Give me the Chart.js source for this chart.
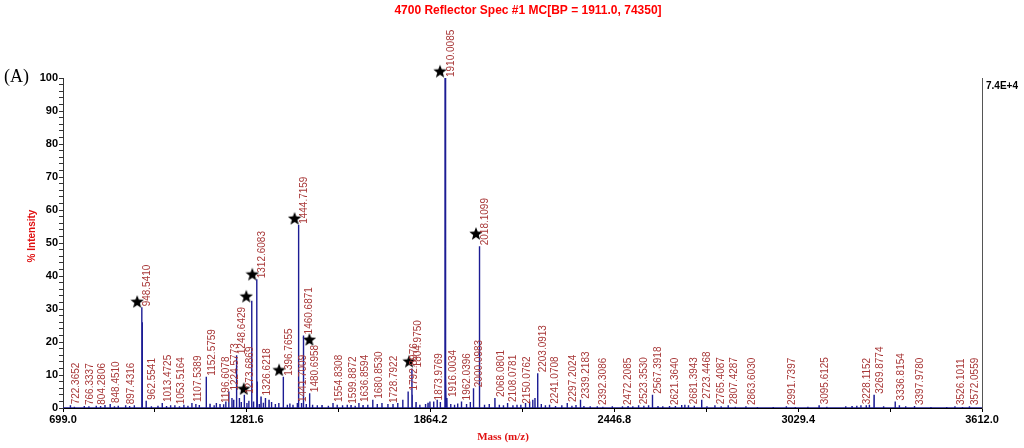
<!DOCTYPE html>
<html lang="en">
<head>
  <meta charset="UTF-8" />
  <title>4700 Reflector Spec #1 MC</title>
  <script src="https://cdn.jsdelivr.net/npm/chart.js"></script>
  <style>
    html, body { margin: 0; padding: 0; background: #fff; }
    #wrap { width: 1024px; height: 448px; }
  </style>
</head>
<body>
  <div id="wrap"><canvas id="spec" width="1024" height="448"></canvas></div>
  <script>
    // labelled / main peaks (m/z, % intensity, label text)
    const peakMass = [722.3652, 766.3337, 804.2806, 848.4510, 897.4316, 948.5410, 949.54, 950.55, 962.5541,
      1013.4725, 1053.5164, 1107.5389, 1152.5759, 1153.58, 1196.6078, 1224.5773, 1234.58, 1248.6429, 1249.64,
      1273.6869, 1296.66, 1297.66, 1312.6083, 1313.61, 1314.61, 1326.6218, 1340.6, 1396.7655, 1397.77,
      1441.7009, 1444.7159, 1445.72, 1446.72, 1460.6871, 1461.69, 1480.6958, 1554.8308, 1599.8872, 1636.8594,
      1680.8530, 1728.7922, 1792.8976, 1804.9750, 1805.98, 1873.9769, 1910.0085, 1911.01, 1912.01, 1913.01,
      1916.0034, 1962.0396, 2000.0983, 2018.1099, 2019.11, 2020.11, 2068.0801, 2108.0781, 2150.0762,
      2203.0913, 2204.09, 2241.0708, 2297.2024, 2339.2183, 2392.3086, 2472.2085, 2523.3530, 2567.3918,
      2621.3640, 2681.3943, 2723.4468, 2765.4087, 2807.4287, 2863.6030, 2991.7397, 3095.6125, 3228.1152,
      3269.8774, 3336.8154, 3397.9780, 3526.1011, 3572.0559];
    const peakInt = [0.8, 0.6, 0.7, 1.2, 0.8, 30.5, 26, 3, 2.2,
      1.5, 0.8, 1.5, 9.5, 3.5, 1.2, 5, 3, 16, 6,
      4, 32.5, 18, 39, 21, 8, 3.5, 3, 9.5, 3,
      1.5, 55.5, 37, 12, 22, 10, 4.5, 1.5, 1, 1.5,
      2.5, 1.2, 5, 12, 4, 2, 100, 51.5, 38, 10,
      3, 2, 6, 49, 40, 15, 3, 1.5, 1,
      10.5, 3.5, 1, 1.5, 2.5, 0.5, 0.5, 0.8, 4,
      0.6, 0.8, 2.5, 0.8, 0.8, 0.5, 0.5, 0.8, 0.8,
      4, 2, 0.6, 0.5, 0.5];
    const peakTag = ["722.3652", "766.3337", "804.2806", "848.4510", "897.4316", "948.5410", "", "", "962.5541",
      "1013.4725", "1053.5164", "1107.5389", "1152.5759", "", "1196.6078", "1224.5773", "", "1248.6429", "",
      "1273.6869", "", "", "1312.6083", "", "", "1326.6218", "", "1396.7655", "",
      "1441.7009", "1444.7159", "", "", "1460.6871", "", "1480.6958", "1554.8308", "1599.8872", "1636.8594",
      "1680.8530", "1728.7922", "1792.8976", "1804.9750", "", "1873.9769", "1910.0085", "", "", "",
      "1916.0034", "1962.0396", "2000.0983", "2018.1099", "", "", "2068.0801", "2108.0781", "2150.0762",
      "2203.0913", "", "2241.0708", "2297.2024", "2339.2183", "2392.3086", "2472.2085", "2523.3530", "2567.3918",
      "2621.3640", "2681.3943", "2723.4468", "2765.4087", "2807.4287", "2863.6030", "2991.7397", "3095.6125", "3228.1152",
      "3269.8774", "3336.8154", "3397.9780", "3526.1011", "3572.0559"];

    // small unlabelled baseline bumps
    const noiseMass = [735, 781, 818, 832, 862, 874, 910, 925, 979, 1000, 1027, 1040, 1068, 1082, 1095, 1120,
      1131, 1165, 1178, 1185, 1208, 1215, 1240, 1258, 1264, 1282, 1288, 1303, 1321, 1334, 1352, 1360, 1372,
      1383, 1410, 1418, 1428, 1455, 1470, 1490, 1505, 1520, 1540, 1568, 1585, 1612, 1625, 1650, 1665, 1695,
      1710, 1745, 1760, 1776, 1818, 1830, 1848, 1856, 1862, 1885, 1895, 1928, 1940, 1950, 1978, 1990, 2035,
      2050, 2082, 2095, 2125, 2138, 2165, 2178, 2188, 2195, 2215, 2228, 2260, 2280, 2312, 2325, 2350, 2370,
      2410, 2440, 2490, 2505, 2540, 2555, 2585, 2600, 2640, 2660, 2670, 2700, 2740, 2785, 2830, 2900, 2950,
      3020, 3060, 3120, 3180, 3200, 3215, 3245, 3255, 3300, 3350, 3370, 3450, 3500, 3550];
    const noiseInt = [0.4, 0.5, 0.6, 0.9, 0.5, 0.7, 0.6, 0.8, 0.5, 0.7, 0.6, 0.8, 0.5, 1.0, 0.7, 1.2,
      0.9, 1.3, 0.8, 1.5, 1.1, 2.0, 2.5, 3.0, 1.8, 1.5, 2.2, 2.0, 1.2, 1.6, 2.5, 1.8, 1.2,
      1.5, 1.0, 1.4, 1.0, 1.5, 1.2, 1.0, 0.8, 0.9, 0.7, 1.0, 0.8, 0.9, 0.7, 0.9, 1.0, 1.2,
      1.5, 1.2, 1.5, 2.5, 1.8, 1.0, 1.2, 1.6, 2.0, 2.5, 1.8, 1.2, 1.0, 1.4, 1.2, 1.8, 1.0,
      1.2, 1.0, 0.8, 0.8, 1.0, 1.5, 2.0, 2.5, 3.0, 1.2, 0.8, 0.6, 0.8, 0.7, 0.9, 0.6, 0.5,
      0.4, 0.5, 0.6, 0.5, 0.7, 0.8, 0.6, 0.5, 0.6, 0.9, 1.0, 0.7, 0.5, 0.5, 0.4, 0.3, 0.3,
      0.3, 0.4, 0.4, 0.5, 0.6, 0.7, 0.8, 1.0, 0.5, 0.8, 0.5, 0.3, 0.3, 0.3];

    // star markers
    const starMass = [934, 1272, 1280, 1299, 1384, 1433, 1480, 1796, 1894, 2008];
    const starInt = [32.4, 6, 34, 40.7, 11.7, 57.6, 20.9, 14.3, 102.2, 53];

    const xTickLabels = ["699.0", "1281.6", "1864.2", "2446.8", "3029.4", "3612.0"];
    const yTickValues = [0, 10, 20, 30, 40, 50, 60, 70, 80, 90, 100];

    const titleText = "4700 Reflector Spec #1 MC[BP = 1911.0, 74350]";

    // build stick profile: each peak is a narrow spike on the baseline
    const sticks = [];
    peakMass.forEach((m, i) => sticks.push([m, peakInt[i]]));
    noiseMass.forEach((m, i) => sticks.push([m, noiseInt[i]]));
    sticks.sort((a, b) => a[0] - b[0]);
    const profile = [{ x: 699, y: 0 }];
    sticks.forEach(([m, h]) => {
      profile.push({ x: m - 0.3, y: 0 }, { x: m, y: h }, { x: m + 0.3, y: 0 });
    });
    profile.push({ x: 3612, y: 0 });

    // filled five point star used as point style
    function makeStar(size) {
      const c = document.createElement("canvas");
      c.width = size; c.height = size;
      const g = c.getContext("2d");
      const cx = size / 2, cy = size / 2, ro = size / 2, ri = ro * 0.42;
      g.beginPath();
      for (let k = 0; k < 10; k++) {
        const r = k % 2 === 0 ? ro : ri;
        const a = -Math.PI / 2 + k * Math.PI / 5;
        g.lineTo(cx + r * Math.cos(a), cy + r * Math.sin(a) + 1);
      }
      g.closePath();
      g.fillStyle = "#000";
      g.fill();
      return c;
    }

    const majorX = xTickLabels.map(Number);
    const allXTicks = [];
    majorX.forEach((v, i) => {
      allXTicks.push(v);
      if (i < majorX.length - 1) allXTicks.push((v + majorX[i + 1]) / 2);
    });

    const decor = {
      id: "decor",
      afterDatasetsDraw(chart) {
        const { ctx, scales: { x, y } } = chart;
        ctx.save();
        // peak labels
        ctx.font = '10px "Liberation Sans", Arial, sans-serif';
        ctx.fillStyle = "#a83838";
        ctx.textAlign = "left";
        ctx.textBaseline = "top";
        peakMass.forEach((m, i) => {
          if (!peakTag[i]) return;
          const px = x.getPixelForValue(m) + 1;
          const py = Math.min(y.getPixelForValue(peakInt[i]) - 1, y.bottom - 3);
          ctx.save();
          ctx.translate(px, py);
          ctx.rotate(-Math.PI / 2);
          ctx.fillText(peakTag[i], 0, 0);
          ctx.restore();
        });
        ctx.restore();
      },
      afterDraw(chart) {
        const { ctx, chartArea } = chart;
        ctx.save();
        ctx.textAlign = "center";
        ctx.textBaseline = "middle";
        ctx.fillStyle = "#ff0000";
        ctx.font = 'bold 12px "Liberation Sans Narrow", "Liberation Sans", Arial, sans-serif';
        ctx.fillText(titleText, 528, 11);
        // axis titles
        ctx.fillStyle = "#e01010";
        ctx.font = 'bold 11px "Liberation Serif", "Times New Roman", serif';
        ctx.fillText("Mass (m/z)", 503, 437);
        ctx.save();
        ctx.translate(32, 236);
        ctx.rotate(-Math.PI / 2);
        ctx.font = 'bold 10px "Liberation Sans", Arial, sans-serif';
        ctx.fillText("% Intensity", 0, 0);
        ctx.restore();
        // panel letter
        ctx.fillStyle = "#000";
        ctx.textAlign = "left";
        ctx.font = '18px "Liberation Serif", "Times New Roman", serif';
        ctx.fillText("(A)", 4, 77);
        // right axis scale
        ctx.font = 'bold 10px "Liberation Sans", Arial, sans-serif';
        ctx.fillText("7.4E+4", chartArea.right + 4, 86);
        ctx.restore();
      }
    };

    new Chart(document.getElementById("spec"), {
      type: "line",
      data: {
        datasets: [
          {
            label: "Spectrum",
            data: profile,
            borderColor: "#1c1c94",
            borderWidth: 1.4,
            pointRadius: 0,
            tension: 0,
            fill: false
          },
          {
            type: "scatter",
            label: "Marked",
            data: starMass.map((m, i) => ({ x: m, y: starInt[i] })),
            pointStyle: makeStar(14),
            pointRadius: 7,
            clip: false
          }
        ]
      },
      options: {
        responsive: false,
        animation: false,
        devicePixelRatio: 1,
        layout: { padding: { top: 78, left: 0, right: 0, bottom: 0 } },
        plugins: { legend: { display: false }, tooltip: { enabled: false }, title: { display: false } },
        scales: {
          x: {
            type: "linear",
            min: 699,
            max: 3612,
            afterFit(s) { s.height = 40; },
            afterBuildTicks(s) { s.ticks = allXTicks.map(v => ({ value: v })); },
            grid: { drawOnChartArea: false, tickLength: 4, color: "#000" },
            border: { color: "#000", width: 1 },
            ticks: {
              autoSkip: false,
              maxRotation: 0,
              padding: 1,
              color: "#000",
              font: { family: '"Liberation Sans", Arial, sans-serif', size: 11, weight: "bold" },
              callback(v) {
                const k = majorX.findIndex(t => Math.abs(t - v) < 0.01);
                return k >= 0 ? xTickLabels[k] : "";
              }
            }
          },
          y: {
            min: 0,
            max: 100,
            afterFit(s) { s.width = 63; },
            grid: { drawOnChartArea: false, tickLength: 4, color: "#333" },
            border: { color: "#333", width: 1 },
            ticks: {
              stepSize: 2,
              autoSkip: false,
              padding: 1,
              color: "#000",
              font: { family: '"Liberation Sans", Arial, sans-serif', size: 11, weight: "bold" },
              callback(v) { return yTickValues.includes(v) ? v : ""; }
            }
          },
          y2: {
            position: "right",
            min: 0,
            max: 100,
            afterFit(s) { s.width = 42; },
            grid: { drawOnChartArea: false, drawTicks: false },
            border: { color: "#555", width: 1 },
            ticks: { display: false }
          }
        }
      },
      plugins: [decor]
    });
  </script>
</body>
</html>
